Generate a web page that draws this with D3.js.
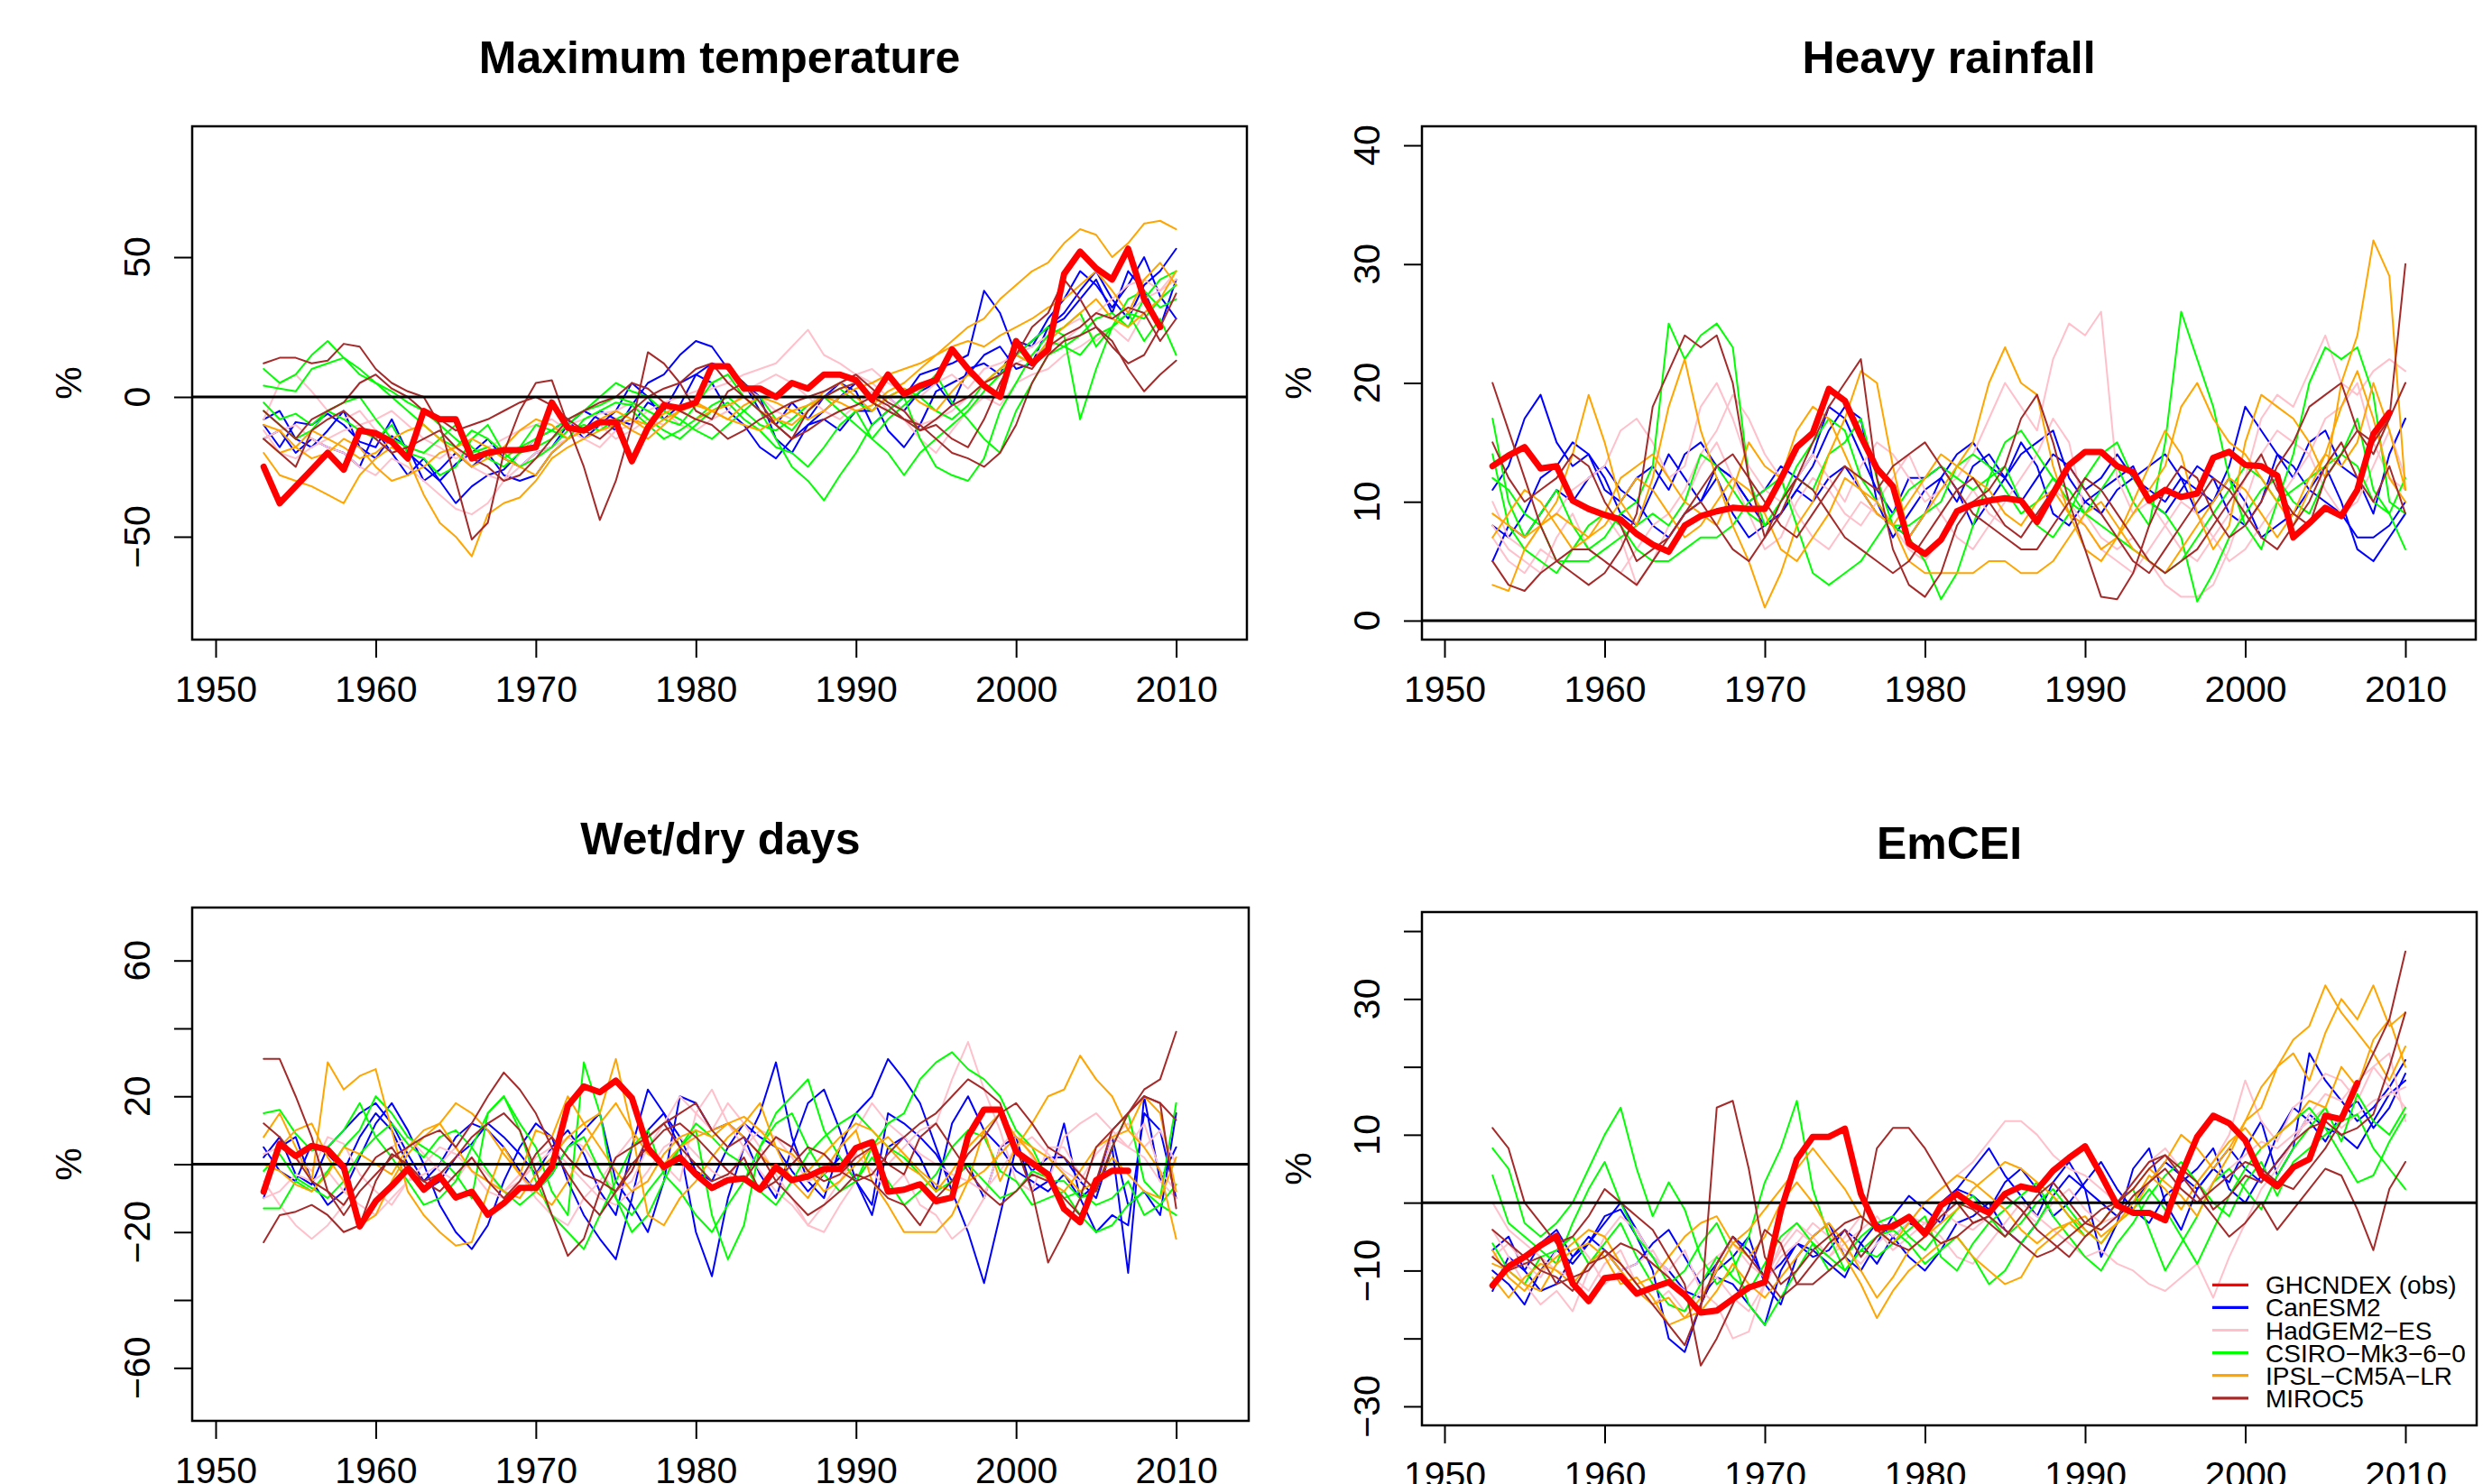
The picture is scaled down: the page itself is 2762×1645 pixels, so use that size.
<!DOCTYPE html>
<html>
<head>
<meta charset="utf-8">
<script src="https://cdn.jsdelivr.net/npm/d3@7"></script>
<style>
  body { margin: 0; background: #ffffff; }
  svg { display: block; font-family: "Liberation Sans", Arial, Helvetica, sans-serif; }
</style>
</head>
<body>
<div id="container"></div>
<script>
/* CONSTANTS AND GLOBALS */
const width = 2762,
  height = 1645;

/* DATA */
// model runs cover 1953-2010, obs start in 1953
const years = d3.range(1953, 2011);
const yearTicks = [1950, 1960, 1970, 1980, 1990, 2000, 2010];

const obsName = "GHCNDEX (obs)";
const obsColor = "red";
const modelNames = ["CanESM2", "HadGEM2\u2212ES", "CSIRO\u2212Mk3\u22126\u22120", "IPSL\u2212CM5A\u2212LR", "MIROC5"];
const modelColors = ["blue", "pink", "#00ff00", "orange", "brown"];

/* Maximum temperature */
const tmaxLim = [-80, 90];
const tmaxTicks = [-50, 0, 50];
const tmaxObs = [-25,-38,-32,-26,-20,-26,-12,-13,-16,-22, -5,-8,-8,-22,-20,-19,-19,-18,-2,-11,
  -12,-9,-9,-23,-11,-3,-4,-2,11,11, 3,3,0,5,3,8,8,6,-1,8, 1,4,6,17,10,4,0,20,12,17, 44,52,46,42,53,35,25];
const tmaxCanESM2 = [
  [-10,-18,-9,-10,-6,-10,-16,-18,-8,-20, -25,-30,-24,-20,-15,-22,-25,-20,-18,-10, -5,-8,-12,-3,5,8,15,20,18,10, 5,-5,-10,-2,-8,0,5,2,-10,-5, 0,8,10,12,15,38,30,15,20,25, 30,38,45,35,28,40,45,53],
  [-15,-12,-20,-15,-18,-20,-25,-12,-20,-28, -22,-30,-38,-32,-28,-26,-20,-15,-12,-8, -15,-10,-5,5,0,-8,-3,8,12,10, 5,0,-15,-20,-10,-5,0,5,0,-12, -18,-10,2,5,8,15,18,10,12,25, 28,35,42,30,45,38,25,42],
  [-8,-5,-15,-18,-12,-5,-18,-22,-14,-18, -30,-26,-20,-25,-20,-28,-30,-28,-20,-15, -12,-5,-8,-10,-2,-5,5,8,5,-5, -10,-18,-22,-15,-10,-8,-12,-5,-5,0, -5,2,5,-3,10,12,8,20,18,28, 35,45,40,32,40,50,36,28]
];
const tmaxHadGEM2 = [
  [-8,5,8,2,-5,-8,-5,-12,-15,-18, -20,-22,-18,-25,-28,-30,-20,-15,-12,-10, -8,-6,-5,-2,-8,-10,-5,0,3,5, 8,10,12,18,24,15,12,8,5,0, -5,-10,-8,-5,0,5,10,12,15,18, 20,25,30,35,40,42,38,42],
  [-15,-12,-10,-15,-18,-20,-25,-28,-22,-25, -30,-35,-40,-42,-38,-30,-25,-20,-18,-15, -12,-10,-15,-12,-8,-5,-10,-12,-8,-5, 2,5,8,5,0,-5,-8,-3,2,-5, -8,-15,-20,-12,-5,0,-3,5,8,10, 15,18,22,25,20,30,35,40],
  [-12,-20,-22,-18,-15,-12,-10,-8,-5,-10, -15,-18,-22,-20,-18,-15,-12,-10,-8,-12, -15,-18,-12,-10,-5,-2,0,2,5,8, 3,0,-5,-8,-3,2,5,8,10,5, 2,0,5,8,3,10,12,15,18,22, 25,28,20,25,30,35,38,45]
];
const tmaxCSIRO = [
  [10,5,8,15,20,14,10,5,0,-5, -10,-15,-18,-12,-15,-20,-18,-15,-12,-8, -5,-3,0,-2,-5,-8,-10,-3,5,8, 0,-5,-15,-25,-30,-37,-28,-20,-10,-5, 0,-15,-25,-28,-30,-22,-5,5,15,22, 25,30,18,25,35,38,32,35],
  [4,3,2,10,12,14,8,5,2,-2, -5,-10,-15,-20,-18,-22,-18,-10,-12,-15, -8,-5,-2,-3,-8,-12,-15,-10,-5,-2, -8,-12,-18,-20,-25,-18,-10,-5,-15,-20, -28,-20,-15,-10,-5,2,8,15,20,25, 22,-8,10,25,30,20,28,15],
  [-5,-10,-15,-12,-5,-2,0,-8,-15,-18, -20,-15,-10,-18,-22,-25,-20,-18,-15,-10, -5,0,5,2,0,-5,-8,-12,-15,-10, -5,0,-8,-12,-5,0,3,-2,-5,0, 3,0,-5,-8,-3,5,10,15,12,20, 18,15,22,25,30,28,35,40],
  [-2,-8,-6,-10,-5,-8,-12,-15,-10,-20, -22,-28,-25,-15,-10,-20,-25,-22,-18,-12, -10,-12,-8,-5,-10,-15,-12,-8,-3,0, -5,-10,-12,-8,-3,0,-5,-10,-15,-8, -3,2,8,-2,-8,-15,-20,-5,5,15, 18,22,28,30,25,35,42,45]
];
const tmaxIPSL = [
  [-20,-28,-30,-32,-35,-38,-28,-22,-18,-22, -35,-45,-50,-57,-42,-38,-36,-30,-22,-18, -15,-12,-10,-8,-12,-8,-5,-3,-5,-8, -10,-12,-8,-5,-3,0,-2,-5,-3,2, 5,10,15,20,25,28,35,40,45,48, 55,60,58,50,55,62,63,60],
  [-15,-20,-18,-12,-15,-18,-22,-20,-15,-12, -10,-15,-20,-25,-22,-18,-12,-8,-10,-15, -12,-8,-5,-8,-10,-6,-3,-2,-5,-8, -3,0,-2,-5,-8,-5,0,3,5,8, 10,12,15,18,20,18,22,25,28,32, 35,40,45,38,30,42,48,40],
  [-10,-12,-18,-22,-20,-15,-18,-25,-30,-28, -25,-20,-18,-15,-18,-22,-25,-28,-20,-15, -12,-10,-8,-12,-15,-10,-5,-8,-5,-3, 0,-5,-8,-10,-5,2,5,0,-5,0, 3,-2,-5,2,8,5,10,15,12,20, 25,30,35,28,25,30,35,45]
];
const tmaxMIROC5 = [
  [12,14,14,12,13,19,18,10,5,2, 0,-10,-30,-51,-45,-20,-5,5,6,-10, -25,-44,-30,-10,16,12,5,-5,-8,2, 5,-2,-10,-15,-5,0,3,5,-2,-5, -8,-12,-10,-15,-18,-8,5,15,25,30, 42,35,25,20,10,2,8,13],
  [-5,-10,-15,-8,-5,-2,5,8,3,0, -5,-8,-12,-10,-8,-5,-2,0,-3,-8, -12,-15,-10,-5,0,3,5,10,12,5, 0,-5,-10,-15,-12,-8,-5,-3,0,-3, -8,-10,-15,-20,-22,-25,-20,-10,5,15, 20,22,25,18,12,15,25,37],
  [-15,-20,-25,-12,-8,-5,-10,-15,-20,-18, -15,-12,-18,-22,-25,-30,-28,-22,-15,-8, -5,-2,0,5,3,-2,-5,-8,-10,-15, -12,-8,-5,-2,0,2,5,8,3,-2, -5,-12,-8,-3,0,5,8,12,10,18, 22,25,30,28,32,30,20,28]
];

/* Heavy rainfall */
const rainLim = [0, 40];
const rainTicks = [0, 10, 20, 30, 40];
const rainObs = [13,13.9,14.6,12.8,13,10.1,9.4,8.9,8.5,7.3, 6.4,5.8,8,8.8,9.2,9.5,9.4,9.4,11.9,14.6,
  15.8,19.5,18.5,15.5,12.8,11.3,6.5,5.6,6.8,9.2, 9.8,10.1,10.3,10.1,8.3,10.7,13.1,14.2,14.2,13,
  12.5,10.1,11,10.4,10.7,13.7,14.2,13.1,13,12.2, 7,8.2,9.5,8.8,11,15.7,17.5];
const rainCanESM2 = [
  [11,13,17,19,15,13,14,12,9,8, 11,14,12,10,13,12,10,8,9,11, 13,16,18,17,10,7,9,11,12,10, 13,14,12,10,12,14,13,11,12,14, 12,11,10,12,9,10,13,18,16,14, 12,15,16,13,12,9,14,17],
  [8,7,9,12,13,15,14,11,10,12, 13,11,14,15,13,12,10,11,13,12, 14,18,17,14,11,9,12,12,13,11, 8,10,12,15,13,9,8,10,11,12, 13,10,9,11,13,12,9,8,10,14, 13,11,10,9,7,7,8,10],
  [5,8,7,9,11,10,12,13,11,10, 8,7,9,10,12,9,7,8,9,11, 10,12,13,11,9,8,7,9,12,14, 15,13,12,14,15,16,12,10,9,11, 12,13,14,12,11,10,12,10,7,8, 9,11,13,10,6,5,7,9]
];
const rainHadGEM2 = [
  [10,7,6,8,9,11,12,13,16,17, 15,12,13,18,20,17,13,11,10,12, 14,12,10,13,15,14,12,10,11,12, 14,17,20,18,16,22,25,24,26,12, 9,10,8,6,5,7,9,12,17,19, 18,21,24,20,19,21,22,21],
  [7,5,4,6,5,6,8,9,7,3, 5,8,10,13,15,12,9,6,7,10, 12,11,9,8,10,12,14,11,9,7, 6,8,10,12,14,17,15,9,7,6, 7,5,3,2,2,3,6,10,14,16, 15,14,17,18,20,15,12,11],
  [8,6,5,4,7,9,6,5,4,6, 8,9,11,14,16,19,17,14,12,9, 7,6,8,10,9,8,6,5,7,9, 11,9,8,7,9,11,10,8,6,5, 4,6,8,10,9,7,5,6,8,10, 12,14,11,9,10,13,16,12]
];
const rainCSIRO = [
  [17,10,7,9,11,8,6,7,9,10, 13,25,22,24,25,23,12,8,10,12, 11,14,15,17,12,8,7,5,1.8,4, 8,12,15,16,14,12,10,9,11,13, 10,8,15,26,22,18,12,8,6,10, 14,20,23,22,23,19,10,9],
  [12,11,9,8,5,5,5,6,7,8, 9,8,10,14,13,11,9,8,10,13, 15,17,16,12,10,8,8,9,10,13, 14,13,11,9,10,12,11,9,8,7, 6,5,4,5,7,9,11,13,12,10, 11,12,13,14,17,11,9,6],
  [14,8,6,5,4,6,8,9,8,6, 5,5,6,7,7,8,10,11,12,8, 4,3,4,5,7,9,11,12,13,12, 11,12,13,10,8,7,9,12,14,15, 12,10,9,7,1.6,4,7,9,11,12, 10,9,12,14,13,10,9,12]
];
const rainIPSL = [
  [3,2.5,6,8,10,14,19,15,10,8, 12,18,22,16,12,8,5,1.1,4,8, 10,14,17,21,20,13,7,9,11,13, 15,20,23,20,19,13,9,6,5,7, 10,13,16,14,9,6,8,15,19,18, 17,15,12,20,24,32,29,11],
  [7,9,11,10,8,6,7,9,12,13, 14,12,10,9,8,11,15,13,12,16, 18,17,14,11,9,8,10,12,14,13, 12,11,9,8,10,11,9,8,6,7, 9,11,13,18,20,17,15,14,12,10, 8,11,14,18,21,17,12,10],
  [9,8,7,8,9,8,7,8,10,12, 11,9,7,8,10,12,11,9,6,5, 7,9,12,11,10,8,5,4,4,4, 4,5,5,4,4,5,7,9,10,8, 6,5,4,6,8,10,12,11,9,7, 9,12,14,13,15,20,16,11]
];
const rainMIROC5 = [
  [20,16,12,8,5,4,3,4,6,9, 18,21,24,23,24,20,12,7,9,12, 15,18,20,22,12,6,3,2,4,8, 10,11,13,17,19,15,10,6,2,1.8, 4,8,11,13,12,9,7,8,10,13, 15,18,19,20,16,14,17,30],
  [15,12,10,11,12,14,13,10,8,5, 6,7,9,11,13,14,12,10,8,7, 9,11,13,12,11,13,14,15,13,11, 9,8,7,6,6,8,10,12,11,9, 7,5,4,5,6,8,10,12,14,11, 9,8,12,14,16,15,17,20],
  [5,3,2.5,4,5,6,6,5,4,3, 5,7,9,10,8,6,5,7,10,12, 11,9,7,6,5,4,5,7,9,11, 12,10,8,7,9,11,13,11,9,7, 5,4,6,8,10,12,11,9,7,6, 8,10,13,15,12,10,13,9]
];

/* Wet/dry days */
const wetLim = [-70, 70];
const wetTicks = [-60, -40, -20, 0, 20, 40, 60];
const wetLabels = [-60, -20, 20, 60];
const wetObs = [-8.1,6,2.4,5.4,4.3,-0.8,-18.3,-10.9,-6.4,-1.4, -7.5,-3.6,-9.8,-8.1,-14.9,-11.5,-7,-7,-0.8,17.2,
  22.9,21.2,24.6,19.5,4.8,-0.8,2,-3,-7,-4.7, -4.2,-7.5,-0.8,-4.7,-3.6,-1.4,-1.4,4.8,6.5,-8.1,
  -7.5,-5.9,-10.9,-9.8,8.2,16.1,16.1,3.7,0.3,-3, -13.2,-17.1,-4.7,-1.9,-1.9];
const wetCanESM2 = [
  [-10,5,8,-5,-12,-8,2,12,18,10, 0,-12,-20,-25,-18,-5,5,12,8,-5, -15,-22,-28,-10,10,15,5,-20,-33,-10, 5,15,30,8,-5,-10,5,15,20,31, 25,18,5,-8,-20,-35,-15,5,-2,2, 2,-5,-10,5,-32,20,-5,5],
  [2,8,-3,-6,5,10,15,18,12,3, -5,0,8,12,10,5,-2,-8,-3,5, 10,15,-5,-12,-20,-5,20,18,10,12, 8,-3,-10,5,18,22,10,-5,-12,15, 12,8,3,-5,0,-10,5,8,-8,-5, 12,-10,-20,-15,-18,15,10,-10],
  [5,-2,-5,6,3,-2,8,15,10,0, -8,-5,2,6,12,8,3,-3,5,10, 3,-8,-15,5,22,15,8,-2,-5,5, 12,8,5,-2,-8,-3,2,-5,-15,5, 8,2,-8,12,20,10,5,-2,-5,-8, -3,-10,-6,8,-12,-8,-15,15]
];
const wetHadGEM2 = [
  [-5,-12,-18,-22,-18,-12,-5,2,5,8, 3,-2,-5,2,-3,-8,-5,0,4,8, 5,-2,-8,-5,5,12,20,15,10,18, 12,5,-3,-10,-18,-20,-12,-5,2,0, 5,10,12,25,36,22,10,-5,-8,5, 5,-3,-8,8,12,5,10,0],
  [3,5,2,-2,8,6,-3,-8,-12,-5, 0,5,3,-2,-5,-8,-3,-10,-15,-18, -10,-5,2,8,5,0,-5,15,22,12, 5,-2,-8,-12,-18,-12,-5,3,-2,-8, -3,-12,-15,-22,-18,-10,5,10,2,-5, 8,12,15,10,5,12,-2,-8],
  [-10,-8,-3,-5,-2,-8,-12,-15,-10,-5, -3,0,5,-2,-8,-10,-5,2,5,0, -5,-10,-12,-8,-2,5,8,3,-2,-5, 5,10,8,2,-5,-3,5,10,18,12, 8,3,0,-3,-5,-8,-2,5,8,3, -2,-5,3,8,5,2,-5,-10]
];
const wetCSIRO = [
  [-13,-13,-5,-8,-2,5,10,20,15,8, 5,2,-3,-10,15,20,12,5,-8,-15, 30,15,-10,-20,-15,-5,5,10,-15,-28, -18,5,15,20,25,10,2,-5,5,12, 15,25,30,33,28,25,20,10,5,-5, -5,-10,-8,5,15,-5,-10,18],
  [15,16,9,4,5,10,18,8,2,-5, -12,-10,-5,5,15,20,10,-5,-15,-20, -25,-15,-5,5,10,-3,-8,-15,-20,-12, -5,5,12,15,5,-3,-8,-5,2,-5, -12,-8,-3,5,10,8,-2,-5,-12,-10, -8,-15,-20,-18,-12,-8,-12,-15],
  [-2,3,-4,-7,-10,-5,3,8,12,6, 2,8,10,5,-2,-8,-12,-8,-3,5, 8,-2,-10,-15,-8,-2,5,12,8,3, 0,-8,-12,-5,3,8,12,15,10,5, 2,-3,-8,-5,0,-5,-10,-8,-2,-4, -10,-8,-12,-10,-5,-15,-12,-6]
];
const wetIPSL = [
  [8,15,5,-5,30,22,26,28,10,-8, -15,-20,-24,-23,-8,5,-3,10,8,20, 12,15,31,10,-15,-18,-10,-5,2,8, 12,18,5,-5,-10,-2,5,10,-5,-12, -20,-20,-20,-15,-5,10,-5,5,12,20, 22,32,25,20,10,5,-2,-22],
  [-8,5,10,12,2,-5,-18,-15,-5,3, 8,12,18,15,10,3,-3,-8,-12,-5, 5,12,18,10,3,0,5,8,10,12, 8,3,-2,-5,-2,3,8,12,10,5, 0,-3,-8,-2,5,10,15,8,3,-5, -8,-2,5,8,10,20,15,-8],
  [0,-2,-6,-8,-3,5,3,0,-3,5, 10,12,5,-2,-5,-8,-10,-3,2,8, 12,5,-2,-8,-5,3,8,10,8,12, 14,10,5,3,-2,-8,-5,0,5,8, 3,-2,-6,-8,-5,-2,3,8,5,2, -3,-8,-5,2,-3,-8,-10,2]
];
const wetMIROC5 = [
  [31,31,20,8,-8,-15,-8,-3,2,5, 8,10,5,12,20,27,22,15,5,-3, -10,-15,-8,-2,8,12,5,0,-5,-3, 2,-8,-5,0,5,3,-2,-5,-3,3, 8,12,15,20,25,22,18,5,-8,-29, -20,-10,5,10,15,20,18,13],
  [-23,-15,-14,-12,-15,-20,-18,-5,3,0, -5,-3,2,8,12,15,10,-2,-15,-27, -22,-8,2,5,8,12,15,18,10,5, 8,3,-5,-10,-15,-12,-8,-3,-5,-10, -12,-18,-10,-5,3,8,15,18,12,5, 2,-3,-8,5,15,20,18,-13],
  [12,8,2,-5,-8,-12,-5,2,5,-2, -5,-8,-3,2,-5,-10,-5,3,8,2, -3,-5,-8,0,5,10,12,8,3,-2, -5,2,8,5,-2,-5,-3,2,5,0, -3,8,12,5,-2,-8,-12,-8,-3,-5, -10,-15,-5,10,15,22,25,39]
];

/* EmCEI */
const emceiLim = [-30, 40];
const emceiTicks = [-30, -20, -10, 0, 10, 20, 30, 40];
const emceiLabels = [-30, -10, 10, 30];
const emceiObs = [-12.2,-9.4,-8,-6.3,-4.9,-11.9,-14.5,-11.1,-10.8,-13.4, -12.5,-11.7,-13.6,-16.2,-15.9,-14.2,-12.5,-11.7,-1.2,6.4,
  9.7,9.7,10.9,1.3,-3.8,-3.5,-2.1,-4.6,-0.4,1.3, -0.4,-1.5,1.3,2.4,1.9,4.7,6.6,8.3,4.1,-0.4,
  -1.5,-1.5,-2.6,4.1,9.7,12.8,11.7,9.2,4.1,2.4, 5.2,6.4,12.8,12.3,17.6];
const emceiCanESM2 = [
  [-13,-8,-10,-6,-4,-8,-6,-2,-1,-5, -10,-20,-22,-15,-10,-8,-5,-12,-15,-8, -5,-3,-8,-10,-6,-2,1,-1,-3,2, 5,8,4,1,-2,3,6,2,-8,-3, 5,8,0,-4,2,5,3,8,12,4, 8,22,18,15,12,14,17,21],
  [-10,-12,-15,-10,-7,-9,-6,-3,0,-4, -8,-10,-13,-14,-11,-12,-15,-18,-10,-6, -8,-7,-4,-6,-9,-5,-3,-4,0,2, 1,-1,3,5,2,-2,0,3,6,2, -1,-3,1,3,5,8,2,0,4,10, 14,12,9,13,15,11,14,19],
  [-7,-5,-10,-13,-12,-8,-5,-7,-10,-9, -6,-4,-8,-12,-9,-5,-7,-11,-9,-6, -7,-9,-11,-6,-3,-5,-8,-10,-7,-3, -2,0,-4,-6,-3,1,4,2,0,-2, 0,3,6,4,2,5,8,5,3,6, 9,13,11,10,8,12,16,18]
];
const emceiHadGEM2 = [
  [-4,-8,-12,-15,-13,-16,-10,-5,-2,-4, -8,-10,-7,-13,-15,-20,-19,-12,-6,-3, -5,-8,-6,-4,-2,-5,-3,0,2,4, 6,9,12,12,10,7,5,4,2,0, 3,6,8,5,3,6,10,18,12,9, 14,16,19,18,15,20,17,14],
  [0,-4,-6,-8,-10,-11,-13,-9,-7,-12, -15,-13,-16,-13,-11,-14,-16,-12,-8,-6, -3,-5,-7,-9,-6,-4,-2,-3,-5,-8, -9,-6,-3,0,-2,-4,-6,-8,-7,-9, -10,-12,-13,-11,-9,-14,-8,-3,2,5, 9,13,16,15,18,20,22,12],
  [-8,-6,-9,-11,-7,-5,-8,-12,-10,-9, -7,-11,-13,-10,-8,-6,-9,-11,-7,-4, -6,-8,-5,-2,-4,-7,-5,-3,-1,-3, -4,-2,1,-1,-3,0,2,-1,-3,-2, 1,3,5,2,0,3,5,7,9,8, 10,12,14,11,13,15,16,17]
];
const emceiCSIRO = [
  [8,5,-3,-5,-3,0,5,10,14,5, -2,3,-1,-8,-12,-10,-5,3,8,15, 2,-5,-10,-7,-8,-6,-4,-2,-8,-10, -6,-3,-1,1,3,-2,-5,-8,-10,-6, -3,1,4,6,3,0,-2,3,6,1, 6,8,10,12,13,8,5,2],
  [4,-3,-5,-7,-9,-3,2,6,0,-5, -8,-12,-10,-6,-3,-8,-15,-18,-14,-10, -6,-8,-10,-7,-5,-4,-6,-9,-7,-5, -8,-12,-10,-6,-3,1,-2,-5,-3,0, 2,-4,-10,-6,-2,3,5,2,-1,4, 8,11,14,9,16,12,10,14],
  [-6,-10,-12,-8,-7,-5,-9,-6,-3,-8, -12,-15,-16,-12,-8,-11,-13,-9,-5,-3, -6,-10,-8,-5,-3,-2,-5,-7,-4,-1, 1,-2,-5,-3,0,2,-1,-4,-6,-3, -1,2,-1,-5,-9,-4,1,5,8,10, 12,14,11,7,3,4,9,13]
];
const emceiIPSL = [
  [-9,-10,-12,-13,-9,-7,-6,-8,-12,-11, -14,-18,-17,-14,-10,-6,-8,-5,0,3, 0,-4,-8,-12,-17,-13,-10,-8,-6,-5, -8,-10,-12,-11,-7,-5,-3,-2,-5,-3, -1,3,6,10,8,5,8,12,14,20, 24,26,32,28,25,22,18,23],
  [-7,-11,-13,-10,-8,-6,-4,-5,-9,-12, -11,-8,-5,-3,-2,-6,-4,-1,2,5, 8,5,2,-2,-4,-6,-3,0,2,4, 3,1,-1,-4,-6,-4,-3,-5,-3,0, 2,5,3,1,-2,3,7,12,17,20, 22,18,25,30,27,32,26,28],
  [-11,-14,-11,-9,-10,-12,-9,-7,-10,-13, -15,-14,-17,-16,-13,-9,-12,-14,-11,-8, -5,-3,-6,-10,-14,-11,-7,-5,-3,-1, 2,4,6,5,3,1,-2,-4,-6,-3, 0,4,2,-1,3,6,9,11,8,10, 12,15,14,20,17,24,27,20]
];
const emceiMIROC5 = [
  [11,8,0,-3,-6,-5,-2,2,0,-2, -4,-8,-12,-24,-20,-15,-10,-4,-6,-12, -12,-10,-8,-4,8,11,11,8,4,0, -3,-2,1,-1,-4,-6,-8,-5,-3,0, 3,6,7,4,1,-2,-5,-3,0,-4, -1,2,5,4,-1,-7,2,6],
  [-8,-10,-9,-8,-12,-11,-10,-7,-9,-12, -15,-18,-21,-15,-9,-5,-8,-11,-14,-12, -9,-6,-4,-8,-5,-3,-2,-4,-6,-5, -3,-2,-4,-6,-8,-7,-5,-3,-1,0, 2,5,7,5,3,-1,1,4,3,6, 9,11,12,10,11,13,20,28],
  [-4,-6,-8,-10,-11,-13,-9,-8,-6,-7, -9,-11,-14,-16,14,15,5,-8,-12,-10, -7,-5,-3,-2,-4,-6,-7,-5,-2,0, -1,-3,-5,-2,1,3,0,-3,-4,-2, 1,3,5,2,0,2,4,6,5,3, 2,5,8,12,17,22,27,37]
];

/* PANEL SETUP */
const panels = [
  { id: "tmax", title: "Maximum temperature", obs: tmaxObs,
    models: [tmaxCanESM2, tmaxHadGEM2, tmaxCSIRO, tmaxIPSL, tmaxMIROC5],
    ylim: tmaxLim, ticks: tmaxTicks, labels: tmaxTicks,
    box: { left: 213, right: 1382, top: 140, bottom: 709 }, xr: [239, 1303.6] },
  { id: "rain", title: "Heavy rainfall", obs: rainObs,
    models: [rainCanESM2, rainHadGEM2, rainCSIRO, rainIPSL, rainMIROC5],
    ylim: rainLim, ticks: rainTicks, labels: rainTicks,
    box: { left: 1576, right: 2744, top: 140, bottom: 709 }, xr: [1601, 2666] },
  { id: "wet", title: "Wet/dry days", obs: wetObs,
    models: [wetCanESM2, wetHadGEM2, wetCSIRO, wetIPSL, wetMIROC5],
    ylim: wetLim, ticks: wetTicks, labels: wetLabels,
    box: { left: 213, right: 1384, top: 1006, bottom: 1575 }, xr: [239, 1303.6] },
  { id: "emcei", title: "EmCEI", obs: emceiObs,
    models: [emceiCanESM2, emceiHadGEM2, emceiCSIRO, emceiIPSL, emceiMIROC5],
    ylim: emceiLim, ticks: emceiTicks, labels: emceiLabels,
    box: { left: 1576, right: 2745, top: 1011, bottom: 1580 }, xr: [1601, 2666], legend: true }
];

const fmt = v => v < 0 ? "\u2212" + Math.abs(v) : String(v);

const svg = d3.select("#container")
  .append("svg")
  .attr("width", width)
  .attr("height", height);

svg.append("rect").attr("width", width).attr("height", height).attr("fill", "#ffffff");

/* DRAW ONE PANEL */
function drawPanel(p) {
  const b = p.box;
  const pad = (p.ylim[1] - p.ylim[0]) * 0.04;   // R style 4% axis extension

  const x = d3.scaleLinear().domain([1950, 2010]).range(p.xr);
  const y = d3.scaleLinear()
    .domain([p.ylim[0] - pad, p.ylim[1] + pad])
    .range([b.bottom, b.top]);

  const line = d3.line()
    .x(d => x(d[0]))
    .y(d => y(d[1]));

  svg.append("clipPath").attr("id", "clip-" + p.id)
    .append("rect")
    .attr("x", b.left).attr("y", b.top)
    .attr("width", b.right - b.left).attr("height", b.bottom - b.top);

  const g = svg.append("g");
  const plot = g.append("g").attr("clip-path", `url(#clip-${p.id})`);

  // model ensemble members, thin lines
  p.models.forEach((runs, i) => {
    plot.selectAll("path.m" + i)
      .data(runs)
      .join("path")
      .attr("class", "m" + i)
      .attr("d", r => line(r.map((v, k) => [years[k], v])))
      .attr("fill", "none")
      .attr("stroke", modelColors[i])
      .attr("stroke-width", 2)
      .attr("stroke-linejoin", "round")
      .attr("stroke-linecap", "round");
  });

  // zero reference line
  plot.append("line")
    .attr("x1", b.left).attr("x2", b.right)
    .attr("y1", y(0)).attr("y2", y(0))
    .attr("stroke", "#000000")
    .attr("stroke-width", 3);

  // observations, thick red
  plot.append("path")
    .datum(p.obs.map((v, k) => [years[k], v]))
    .attr("d", line)
    .attr("fill", "none")
    .attr("stroke", obsColor)
    .attr("stroke-width", 7)
    .attr("stroke-linejoin", "round")
    .attr("stroke-linecap", "round");

  // plot box
  g.append("rect")
    .attr("x", b.left).attr("y", b.top)
    .attr("width", b.right - b.left).attr("height", b.bottom - b.top)
    .attr("fill", "none")
    .attr("stroke", "#000000")
    .attr("stroke-width", 2.5);

  // x axis
  g.append("g")
    .attr("transform", `translate(0,${b.bottom})`)
    .call(d3.axisBottom(x).tickValues(yearTicks).tickSize(20).tickPadding(20).tickFormat(d3.format("d")))
    .call(a => a.select(".domain").remove())
    .call(a => a.selectAll("line").attr("stroke-width", 2))
    .call(a => a.selectAll("text")
      .attr("font-size", 41)
      .attr("font-family", "'Liberation Sans', Arial, Helvetica, sans-serif")
      .attr("fill", "#000000"));

  // y axis ticks
  g.append("g")
    .attr("transform", `translate(${b.left},0)`)
    .call(d3.axisLeft(y).tickValues(p.ticks).tickSize(20).tickFormat(""))
    .call(a => a.select(".domain").remove())
    .call(a => a.selectAll("line").attr("stroke-width", 2));

  // y tick labels, parallel to the axis
  g.selectAll("text.ylab")
    .data(p.labels)
    .join("text")
    .attr("class", "ylab")
    .attr("transform", d => `translate(${b.left - 47},${y(d)}) rotate(-90)`)
    .attr("text-anchor", "middle")
    .attr("font-size", 41)
    .text(fmt);

  // axis title
  g.append("text")
    .attr("transform", `translate(${b.left - 123},${(b.top + b.bottom) / 2}) rotate(-90)`)
    .attr("text-anchor", "middle")
    .attr("font-size", 41)
    .text("%");

  // panel title
  g.append("text")
    .attr("x", (b.left + b.right) / 2)
    .attr("y", b.top - 59)
    .attr("text-anchor", "middle")
    .attr("font-size", 50)
    .attr("font-weight", "bold")
    .text(p.title);

  /* LEGEND */
  if (p.legend) {
    const items = [{ name: obsName, color: obsColor }]
      .concat(modelNames.map((n, i) => ({ name: n, color: modelColors[i] })));
    const leg = g.append("g");
    const row = leg.selectAll("g")
      .data(items)
      .join("g")
      .attr("transform", (d, i) => `translate(2452,${1424.3 + i * 25.1})`);
    row.append("line")
      .attr("x1", 0).attr("x2", 40)
      .attr("stroke", d => d.color)
      .attr("stroke-width", 3.2);
    row.append("text")
      .attr("x", 59)
      .attr("y", 10)
      .attr("font-size", 28)
      .text(d => d.name);
  }
}

panels.forEach(drawPanel);
</script>
</body>
</html>
